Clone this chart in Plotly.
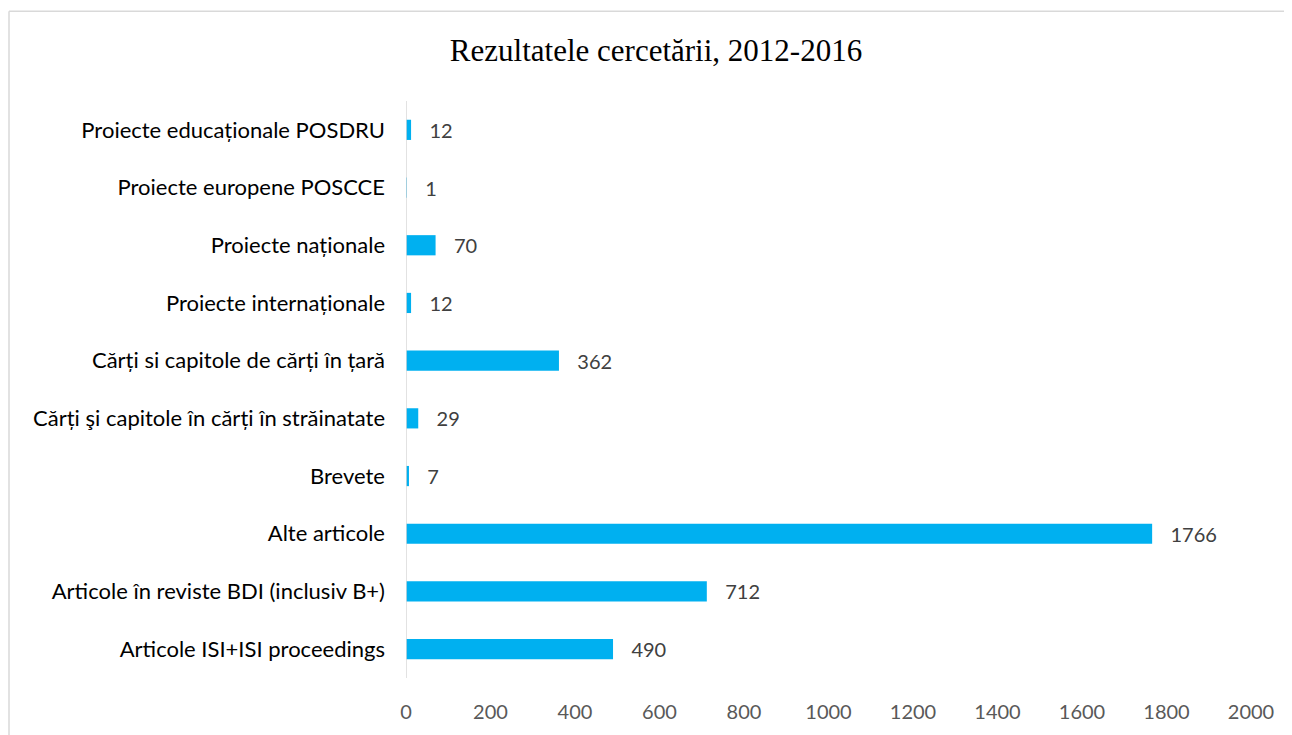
import plotly.graph_objects as go

categories = [
    "Proiecte educaționale POSDRU",
    "Proiecte europene POSCCE",
    "Proiecte naționale",
    "Proiecte internaționale",
    "Cărți si capitole de cărți în țară",
    "Cărți şi capitole în cărți în străinatate",
    "Brevete",
    "Alte articole",
    "Articole în reviste BDI (inclusiv B+)",
    "Articole ISI+ISI proceedings",
]
values = [12, 1, 70, 12, 362, 29, 7, 1766, 712, 490]
x_ticks = [0, 200, 400, 600, 800, 1000, 1200, 1400, 1600, 1800, 2000]
title_text = "Rezultatele cercetării, 2012-2016"

# page body has an 8px margin, so the figure is placed at (8, 8)
W, H = 1284, 727
L, R, T, B = 398, 41, 93, 55
pw, ph = W - L - R, H - T - B

fig = go.Figure(
    go.Bar(
        x=values,
        y=categories,
        orientation="h",
        marker=dict(color="#00B0F0", line=dict(width=0)),
        width=0.35,
        text=values,
        texttemplate="\u00a0\u00a0\u00a0%{x}",
        textposition="outside",
        constraintext="none",
        cliponaxis=False,
        textfont=dict(family="Lato", size=20, color="#404040"),
    )
)

bx0 = (1 - L) / pw
by1 = 1 + (T - 3) / ph

fig.update_layout(
    width=W,
    height=H,
    margin=dict(l=L, r=R, t=T, b=B),
    paper_bgcolor="white",
    plot_bgcolor="white",
    showlegend=False,
    title=dict(
        text=title_text,
        x=648 / W,
        xanchor="center",
        y=1 - 42 / H,
        yanchor="middle",
        font=dict(family="Liberation Serif", size=31, color="#000000"),
    ),
    xaxis=dict(
        range=[0, 2000],
        tickvals=x_ticks,
        showgrid=False,
        zeroline=False,
        showline=False,
        ticks="",
        ticklabelstandoff=20,
        tickfont=dict(family="Lato", size=20, color="#595959"),
    ),
    yaxis=dict(
        autorange="reversed",
        showgrid=False,
        zeroline=False,
        showline=False,
        ticks="",
        ticklabelstandoff=20,
        tickfont=dict(family="Lato", size=22, color="#000000"),
    ),
    shapes=[
        dict(
            type="line", xref="x", yref="paper", x0=0, x1=0, y0=0, y1=1,
            line=dict(color="#D9D9D9", width=1.5),
        ),
        dict(
            type="line", xref="paper", yref="paper",
            x0=bx0, x1=(1400 - L) / pw, y0=by1, y1=by1,
            line=dict(color="#D9D9D9", width=1.5),
            layer="below",
        ),
        dict(
            type="line", xref="paper", yref="paper",
            x0=bx0, x1=bx0, y0=by1, y1=-(800 - (T + ph)) / ph,
            line=dict(color="#D9D9D9", width=1.5),
            layer="below",
        ),
    ],
)

fig.write_html("out.html")
